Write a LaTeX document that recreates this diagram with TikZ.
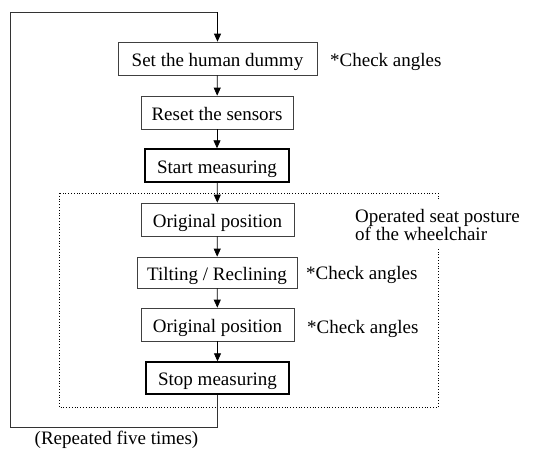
\documentclass[tikz,border=0pt]{standalone}
\usepackage{fontspec}
\setmainfont{Liberation Serif}
\usetikzlibrary{arrows.meta}
\begin{document}
\begin{tikzpicture}[x=1pt,y=-1pt,
  every node/.style={font=\fontsize{19}{20}\selectfont, inner sep=0pt},
  boxtext/.style={text height=15pt, text depth=0pt},
  stepbox/.style={boxtext, draw=black!75, line width=0.7pt},
  keybox/.style={boxtext, draw=black, line width=1.4pt},
  conn/.style={line width=0.8pt, -{Triangle[length=8pt,width=7pt]}},
  loopline/.style={line width=0.8pt, draw=black!80},
  note/.style={anchor=base west}]
\useasboundingbox (0,0) rectangle (538,450);
\node[stepbox, minimum width=199pt, minimum height=33pt] (b1) at (217.5,58.5) {Set the human dummy};
\node[stepbox, minimum width=152pt, minimum height=33pt] (b2) at (217,112.5) {Reset the sensors};
\node[keybox, minimum width=144pt, minimum height=33pt] (b3) at (217,165.5) {Start measuring};
\draw[dotted, line width=0.8pt] (59,193) rectangle (438,407);
\node[stepbox, minimum width=153pt, minimum height=33pt] (b4) at (217.5,219.5) {Original position};
\node[stepbox, minimum width=160pt, minimum height=31pt] (b5) at (217,272.5) {Tilting / Reclining};
\node[stepbox, minimum width=153pt, minimum height=33pt] (b6) at (217.5,324.5) {Original position};
\node[keybox, minimum width=143pt, minimum height=32pt] (b7) at (217.5,378) {Stop measuring};
\node[note] (n1) at (330,66) {*Check angles};
\node[note] (n2) at (306,279) {*Check angles};
\node[note] (n3) at (307,333) {*Check angles};
\node[anchor=north west, fill=white, align=left, inner xsep=2pt, inner ysep=8pt, font=\fontsize{19}{17}\selectfont] (op) at (353,201) {Operated seat posture\\of the wheelchair};
\node[anchor=base] (rep) at (116.5,444.5) {(Repeated five times)};
\draw[conn] (b1) -- (b2);
\draw[conn] (b2) -- (b3);
\draw[conn] (b3) -- (b4);
\draw[conn] (b4) -- (b5);
\draw[conn] (b5) -- (b6);
\draw[conn] (b6) -- (b7);
\coordinate (l1) at (b7.south |- 0,427);
\coordinate (l2) at (10,427);
\coordinate (l3) at (10,12);
\coordinate (l4) at (b1.north |- 0,12);
\draw[loopline] (b7.south) -- (l1) -- (l2) -- (l3) -- (l4);
\draw[conn] (l4) -- (b1.north);
\end{tikzpicture}
\end{document}
